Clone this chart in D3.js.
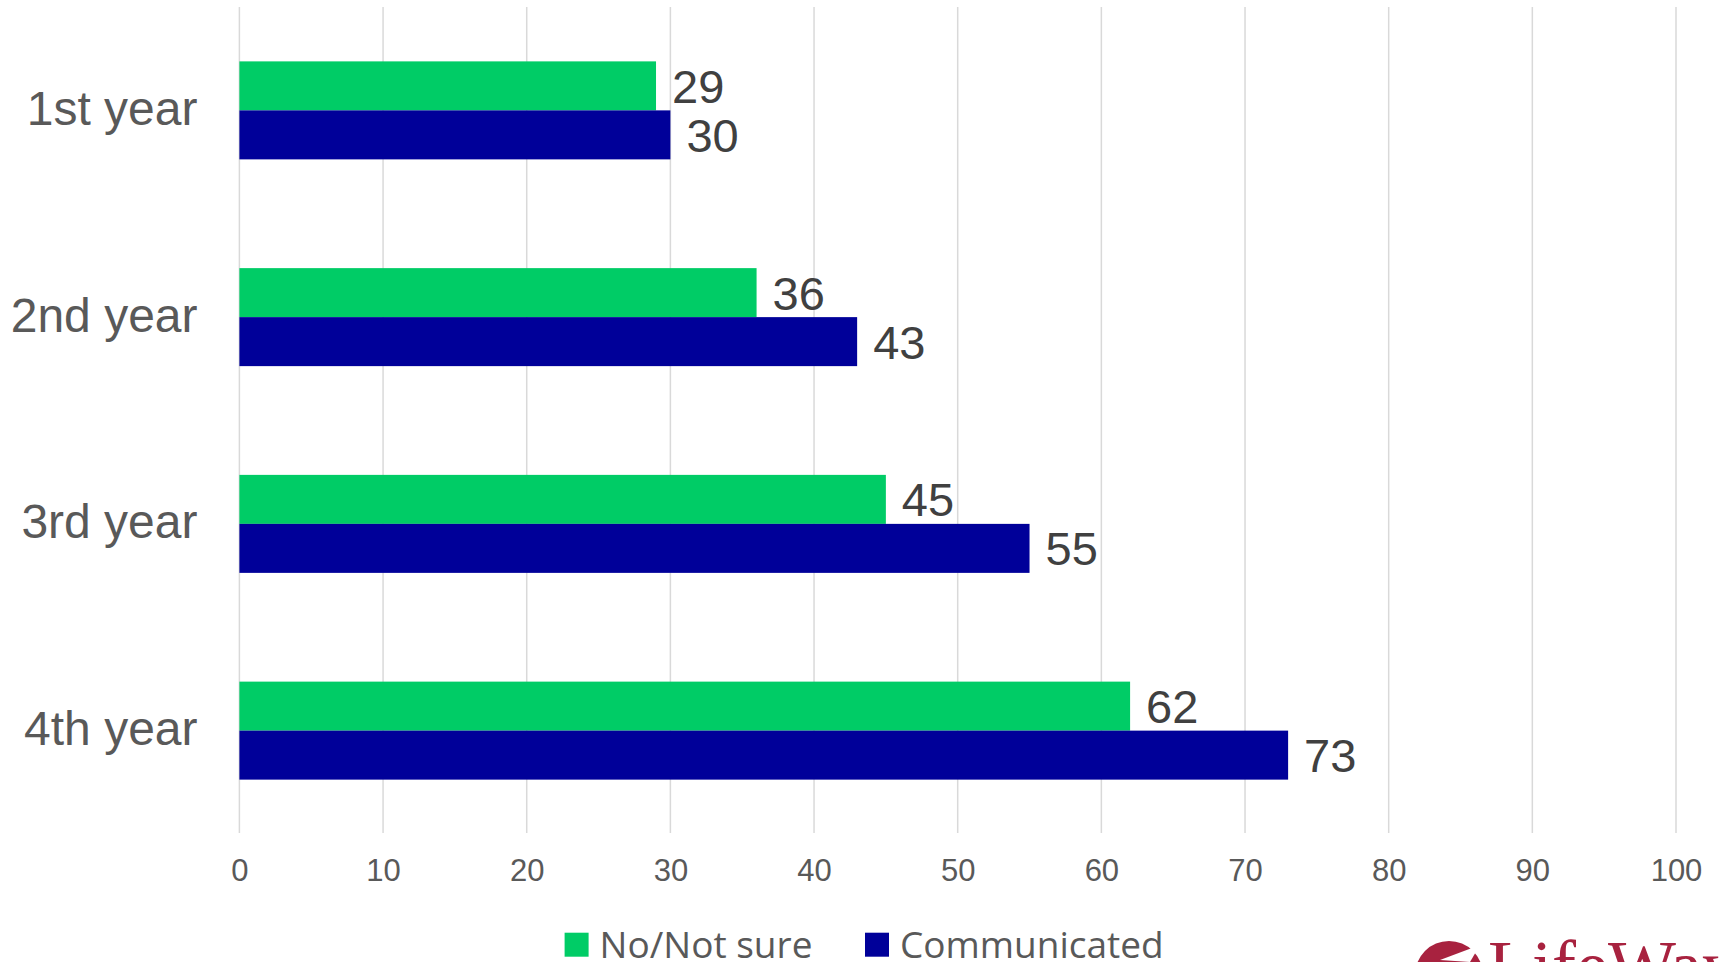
<!DOCTYPE html>
<html>
<head>
<meta charset="utf-8">
<script src="https://cdn.jsdelivr.net/npm/d3@7"></script>
<style>
  html, body { margin: 0; padding: 0; background: #ffffff; overflow: hidden; }
  svg { display: block; }
</style>
</head>
<body>
<svg id="chart" width="1721" height="962"></svg>
<script>
// ---- data ----
const categories = ["1st year", "2nd year", "3rd year", "4th year"];
const seriesNames = ["No/Not sure", "Communicated"];
const noNotSure = [29, 36, 45, 62];
const communicated = [30, 43, 55, 73];
const xTicks = [0, 10, 20, 30, 40, 50, 60, 70, 80, 90, 100];
const seriesColors = ["#00cc66", "#000099"];
const logoText = "LifeWay";

const seriesValues = [noNotSure, communicated];
const rows = categories.map((c, i) => ({
  cat: c,
  vals: seriesNames.map((s, j) => ({ series: s, idx: j, value: seriesValues[j][i] }))
}));

const svg = d3.select("#chart");

const x = d3.scaleLinear().domain([0, 100]).range([239.4, 1676]);
const y = d3.scaleBand().domain(categories).range([7, 834])
  .paddingInner(0.526).paddingOuter(0.263);
const ySub = d3.scaleBand().domain(seriesNames).range([0, y.bandwidth()]).padding(0);

// gridlines
svg.append("g").selectAll("line").data(xTicks).join("line")
  .attr("x1", d => x(d)).attr("x2", d => x(d))
  .attr("y1", 7).attr("y2", 833)
  .attr("stroke", "#d9d9d9").attr("stroke-width", 1.5);

// x axis labels
const xAxis = d3.axisBottom(x).tickValues(xTicks).tickSize(0).tickPadding(0);
const gx = svg.append("g").attr("transform", "translate(0,881)").call(xAxis);
gx.select(".domain").remove();
gx.selectAll("text")
  .attr("dy", 0)
  .attr("font-family", "Liberation Sans, Arial, sans-serif")
  .attr("font-size", 31)
  .attr("fill", "#595959");

// y axis labels
const yAxis = d3.axisLeft(y).tickSize(0).tickPadding(0);
const gy = svg.append("g").attr("transform", "translate(197.5,0)").call(yAxis);
gy.select(".domain").remove();
gy.selectAll("text")
  .attr("dy", "0.3em")
  .attr("font-family", "Liberation Sans, Arial, sans-serif")
  .attr("font-size", 48)
  .attr("fill", "#595959");

// bars
const groups = svg.append("g").selectAll("g").data(rows).join("g")
  .attr("transform", d => `translate(0,${y(d.cat)})`);

groups.selectAll("rect").data(d => d.vals).join("rect")
  .attr("x", x(0))
  .attr("y", d => ySub(d.series))
  .attr("width", d => x(d.value) - x(0))
  .attr("height", ySub.bandwidth())
  .attr("fill", d => seriesColors[d.idx]);

groups.selectAll("text").data(d => d.vals).join("text")
  .attr("x", d => x(d.value) + 16)
  .attr("y", d => ySub(d.series) + ySub.bandwidth() / 2)
  .attr("dy", "0.36em")
  .attr("font-family", "Liberation Sans, Arial, sans-serif")
  .attr("font-size", 47)
  .attr("fill", "#404040")
  .text(d => d.value);

// legend
const legendX = [564.6, 865];
const legend = svg.append("g").selectAll("g").data(seriesNames).join("g")
  .attr("transform", (d, i) => `translate(${legendX[i]},932.7)`);
legend.append("rect").attr("width", 24).attr("height", 24)
  .attr("fill", (d, i) => seriesColors[i]);
legend.append("text").attr("x", 35).attr("y", 25)
  .attr("font-family", "Open Sans, Noto Sans, sans-serif")
  .attr("font-size", 37)
  .attr("fill", "#595959")
  .text(d => d);

// logo (partially visible at bottom right)
const logo = svg.append("g");
logo.append("circle").attr("cx", 1449).attr("cy", 975).attr("r", 34).attr("fill", "#a8223f");
logo.append("path").attr("d", "M1440,960 L1480,945 L1470,962 Z").attr("fill", "#ffffff");
logo.append("text").attr("x", 1488).attr("y", 990)
  .attr("font-family", "Liberation Serif, serif")
  .attr("font-size", 72)
  .attr("fill", "#a8223f")
  .text(logoText);
</script>
</body>
</html>
